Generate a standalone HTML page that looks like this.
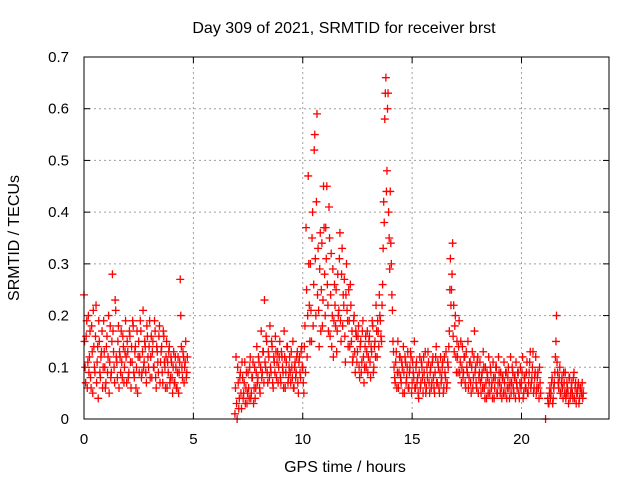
<!DOCTYPE html>
<html><head><meta charset="utf-8"><style>
body{margin:0;background:#fff;}
svg{display:block;font-family:"Liberation Sans",sans-serif;}
</style></head><body>
<svg id="chart" width="640" height="480">
<text x="344" y="33" font-size="16" text-anchor="middle">Day 309 of 2021, SRMTID for receiver brst</text>
<text x="345" y="472" font-size="16" text-anchor="middle">GPS time / hours</text>
<text x="19" y="238" font-size="16" text-anchor="middle" transform="rotate(-90 19 238)">SRMTID / TECUs</text>
<g id="grid"></g><g id="ticks"></g><g id="marks"></g>
<rect x="84" y="57" width="525" height="362" fill="none" stroke="#000" stroke-width="1"/>
</svg>
<script>
const xTicks=[0,5,10,15,20];
const yTicks=[0,0.1,0.2,0.3,0.4,0.5,0.6,0.7];
const yTickLabels=["0","0.1","0.2","0.3","0.4","0.5","0.6","0.7"];
const segStarts=[0,6.9,10.0,14.15,21.1,21.2];
const segStep=0.05;
const segA=[0.24,0.10,0.16,0.06,0.20,0.12,0.08,0.18,0.05,0.14,0.09,0.22,0.11,0.04,0.15,0.08,0.13,0.06,0.19,0.10,
0.07,0.16,0.12,0.05,0.18,0.09,0.28,0.13,0.07,0.21,0.11,0.15,0.06,0.12,0.17,0.08,0.14,0.10,0.19,0.07,
0.13,0.09,0.16,0.06,0.11,0.18,0.08,0.14,0.10,0.05,0.15,0.12,0.17,0.09,0.21,0.11,0.14,0.07,0.16,0.10,
0.19,0.12,0.08,0.15,0.10,0.17,0.06,0.13,0.09,0.18,0.11,0.14,0.07,0.16,0.10,0.12,0.06,0.09,0.14,0.08,
0.11,0.05,0.13,0.07,0.10,0.06,0.12,0.09,0.27,0.14,0.08,0.12,0.10,0.15,0.09];
const segB=[0.01,0.12,0.0,0.07,0.04,0.09,0.02,0.08,0.05,0.11,0.06,0.03,0.09,0.04,0.12,0.05,0.08,0.03,0.10,0.06,
0.14,0.08,0.11,0.05,0.17,0.09,0.13,0.23,0.10,0.15,0.07,0.12,0.18,0.09,0.14,0.06,0.11,0.16,0.08,0.13,
0.10,0.15,0.07,0.12,0.09,0.17,0.06,0.11,0.14,0.08,0.12,0.07,0.10,0.15,0.06,0.11,0.09,0.13,0.05,0.12,0.08,0.14];
const segC=[0.10,0.05,0.18,0.37,0.12,0.47,0.22,0.30,0.15,0.40,0.26,0.55,0.20,0.59,0.33,0.14,0.36,0.25,0.18,0.45,
0.28,0.37,0.45,0.22,0.41,0.16,0.32,0.20,0.12,0.26,0.18,0.13,0.28,0.21,0.36,0.15,0.33,0.24,0.27,0.11,
0.30,0.19,0.25,0.14,0.22,0.17,0.12,0.20,0.09,0.16,0.13,0.18,0.08,0.15,0.11,0.19,0.07,0.14,0.10,0.17,
0.12,0.16,0.08,0.13,0.18,0.10,0.15,0.22,0.12,0.17,0.24,0.19,0.15,0.26,0.42,0.58,0.66,0.48,0.63,0.35,0.44,0.30,0.21];
const segD=[0.13,0.08,0.11,0.06,0.15,0.09,0.12,0.07,0.10,0.14,0.05,0.11,0.08,0.13,0.06,0.10,0.12,0.07,0.09,0.15,
0.06,0.11,0.08,0.04,0.12,0.07,0.10,0.05,0.09,0.13,0.06,0.08,0.11,0.05,0.10,0.07,0.12,0.06,0.09,0.14,
0.07,0.10,0.05,0.12,0.08,0.11,0.06,0.09,0.13,0.07,0.10,0.17,0.31,0.25,0.34,0.22,0.18,0.12,0.15,0.09,
0.19,0.11,0.07,0.14,0.09,0.12,0.06,0.10,0.15,0.08,0.11,0.05,0.13,0.08,0.17,0.10,0.06,0.12,0.08,0.11,
0.05,0.09,0.13,0.06,0.10,0.04,0.08,0.12,0.05,0.09,0.07,0.11,0.04,0.08,0.10,0.05,0.12,0.07,0.09,0.04,
0.08,0.11,0.05,0.09,0.06,0.10,0.04,0.12,0.07,0.09,0.05,0.08,0.11,0.06,0.09,0.04,0.10,0.07,0.12,0.05,
0.08,0.06,0.11,0.05,0.09,0.13,0.07,0.10,0.05,0.08,0.12,0.06,0.09,0.04,0.07];
const segE=[0.0];
const segF=[0.04,0.03,0.06,0.05,0.08,0.04,0.07,0.12,0.20,0.09,0.06,0.10,0.05,0.08,0.04,0.07,0.09,0.05,0.06,0.03,0.08,0.05,0.07,0.04,0.09,0.06,0.03,0.05,0.07,0.04,0.06,0.05,0.04];
const segA2=[0.15,0.07,0.19,0.11,0.09,0.17,0.06,0.13,0.21,0.10,0.16,0.07,0.14,0.19,0.09,0.12,0.17,0.10,0.13,0.06,
0.14,0.09,0.20,0.11,0.08,0.15,0.17,0.10,0.23,0.12,0.08,0.18,0.13,0.09,0.11,0.16,0.07,0.13,0.12,0.15,
0.08,0.17,0.11,0.14,0.19,0.09,0.13,0.06,0.17,0.12,0.09,0.19,0.08,0.13,0.10,0.15,0.09,0.18,0.12,0.14,
0.08,0.16,0.13,0.10,0.19,0.08,0.14,0.11,0.16,0.07,0.13,0.09,0.17,0.11,0.06,0.15,0.11,0.13,0.07,0.12,
0.08,0.10,0.07,0.12,0.06,0.09,0.05,0.11,0.20,0.10,0.13,0.07,0.11,0.08,0.12];
const segB2=[0.06,0.03,0.10,0.02,0.08,0.05,0.11,0.04,0.07,0.03,0.09,0.05,0.06,0.10,0.04,0.08,0.11,0.06,0.04,0.09,
0.07,0.12,0.06,0.10,0.08,0.13,0.07,0.11,0.16,0.09,0.13,0.08,0.10,0.15,0.07,0.12,0.09,0.13,0.11,0.07,
0.12,0.08,0.13,0.10,0.06,0.12,0.09,0.14,0.07,0.10,0.09,0.13,0.08,0.06,0.10,0.08,0.12,0.07,0.11,0.09,0.13,0.10];
const segC2=[0.07,0.14,0.09,0.25,0.20,0.30,0.15,0.21,0.35,0.18,0.52,0.31,0.42,0.24,0.21,0.29,0.17,0.34,0.23,0.37,
0.20,0.31,0.26,0.17,0.35,0.24,0.14,0.29,0.19,0.22,0.25,0.17,0.20,0.31,0.19,0.28,0.18,0.22,0.16,0.24,
0.21,0.14,0.19,0.26,0.15,0.11,0.19,0.13,0.17,0.11,0.16,0.10,0.14,0.09,0.17,0.12,0.10,0.16,0.13,0.09,
0.15,0.11,0.14,0.19,0.09,0.14,0.12,0.17,0.19,0.14,0.20,0.16,0.22,0.33,0.38,0.63,0.44,0.60,0.40,0.29,0.34,0.24,0.15];
const segD2=[0.10,0.07,0.13,0.09,0.06,0.12,0.08,0.11,0.05,0.09,0.12,0.07,0.10,0.06,0.09,0.13,0.05,0.11,0.08,0.06,
0.10,0.07,0.05,0.09,0.06,0.11,0.08,0.12,0.07,0.05,0.10,0.13,0.07,0.09,0.06,0.11,0.08,0.05,0.12,0.07,
0.11,0.06,0.09,0.07,0.10,0.05,0.12,0.08,0.06,0.11,0.14,0.25,0.22,0.28,0.16,0.13,0.20,0.09,0.12,0.14,
0.09,0.15,0.10,0.08,0.12,0.07,0.13,0.09,0.06,0.11,0.07,0.10,0.06,0.12,0.09,0.07,0.11,0.05,0.09,0.07,
0.08,0.06,0.10,0.04,0.07,0.09,0.05,0.07,0.10,0.06,0.04,0.08,0.06,0.10,0.05,0.07,0.09,0.05,0.06,0.08,
0.05,0.07,0.09,0.04,0.08,0.06,0.07,0.05,0.10,0.06,0.08,0.04,0.07,0.09,0.05,0.07,0.06,0.09,0.04,0.08,
0.06,0.09,0.05,0.07,0.11,0.06,0.08,0.13,0.06,0.09,0.05,0.08,0.06,0.10,0.05];
const segE2=[];
const segF2=[0.03,0.05,0.04,0.07,0.03,0.06,0.09,0.15,0.11,0.07,0.08,0.05,0.07,0.06,0.09,0.05,0.04,0.07,0.05,0.08,0.04,0.06,0.05,0.08,0.04,0.07,0.05,0.06,0.03,0.06,0.05,0.07,0.05];
const segValues=[segA,segB,segC,segD,segE,segF];
const segValues2=[segA2,segB2,segC2,segD2,segE2,segF2];

const NS="http://www.w3.org/2000/svg";
const L=84,R=609,T=57,B=419,XMAX=24,YMAX=0.7;
const xs=v=>L+(v/XMAX)*(R-L);
const ys=v=>B-(v/YMAX)*(B-T);
function mk(tag,attrs,parent){const e=document.createElementNS(NS,tag);for(const k in attrs)e.setAttribute(k,attrs[k]);parent.appendChild(e);return e;}
const grid=document.getElementById('grid'),ticks=document.getElementById('ticks'),marks=document.getElementById('marks');
xTicks.forEach(t=>{
  const x=xs(t);
  if(t>0){const g=mk('line',{x1:x,x2:x,y1:T,y2:B,stroke:'#a0a0a0','stroke-dasharray':'2,3'},grid);
  
  }
  mk('line',{x1:x,x2:x,y1:B,y2:B-6,stroke:'#000'},ticks);
  mk('line',{x1:x,x2:x,y1:T,y2:T+6,stroke:'#000'},ticks);
  const lb=mk('text',{x:x,y:B+25,'font-size':15,'text-anchor':'middle'},ticks);
  lb.textContent=String(t);
  
  
});
yTicks.forEach((t,i)=>{
  const y=ys(t);
  if(t>0&&t<YMAX){const g=mk('line',{x1:L,x2:R,y1:y,y2:y,stroke:'#a0a0a0','stroke-dasharray':'2,3'},grid);
  
  }
  mk('line',{x1:L,x2:L+6,y1:y,y2:y,stroke:'#000'},ticks);
  mk('line',{x1:R,x2:R-6,y1:y,y2:y,stroke:'#000'},ticks);
  const lb=mk('text',{x:69,y:y+5,'font-size':15,'text-anchor':'end'},ticks);
  lb.textContent=yTickLabels[i];
  
  
});
function drawSeries(sets,offset){
  sets.forEach((vals,si)=>{
    vals.forEach((v,j)=>{
      const x=xs(segStarts[si]+offset+j*segStep),y=ys(v);
      const p=mk('path',{d:`M${x-4},${y}H${x+4}M${x},${y-4}V${y+4}`,stroke:'#ff0000','stroke-width':1.3,fill:'none'},marks);
      
      
    });
  });
}
drawSeries(segValues,0);
drawSeries(segValues2,0.025);
</script>
</body></html>
